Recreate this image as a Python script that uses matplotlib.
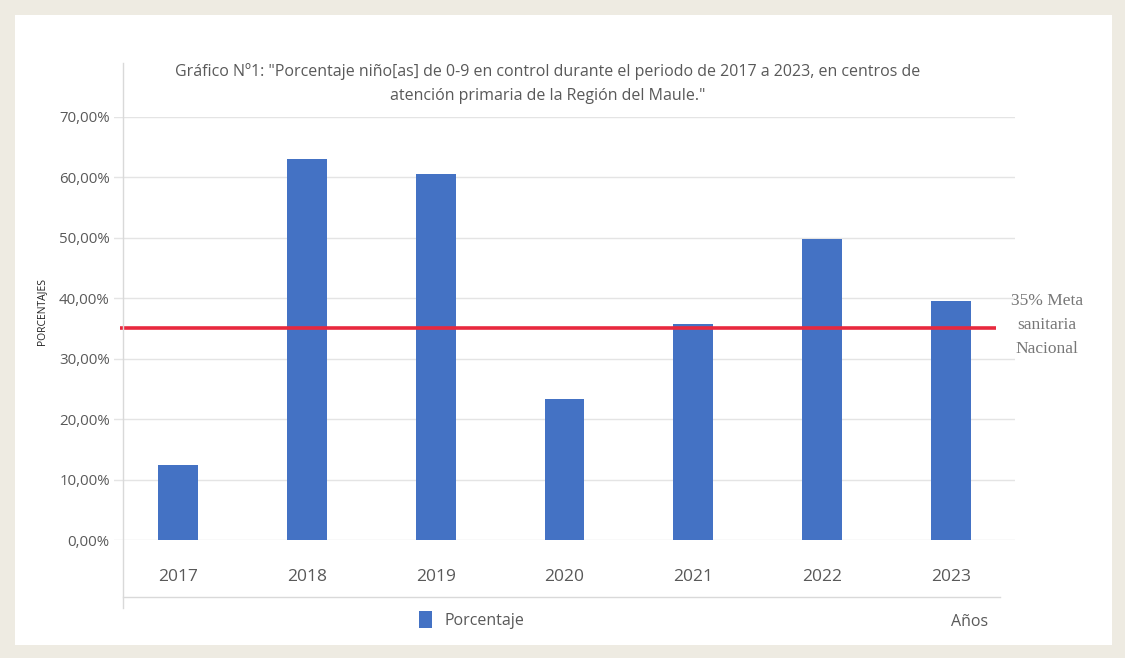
import matplotlib.pyplot as plt
from matplotlib.lines import Line2D
from matplotlib.patches import Rectangle
from matplotlib.ticker import FuncFormatter

years = ["2017", "2018", "2019", "2020", "2021", "2022", "2023"]
porcentaje = [0.124, 0.630, 0.606, 0.233, 0.357, 0.498, 0.396]
meta = 0.35
y_ticks = [0.0, 0.1, 0.2, 0.3, 0.4, 0.5, 0.6, 0.7]

W, H = 1125, 658
fig = plt.figure(figsize=(W / 100, H / 100), dpi=100)
fig.patch.set_facecolor("#EEEBE2")

# white inner panel
fig.add_artist(Rectangle((15 / W, 1 - 645 / H), (1112 - 15) / W, (645 - 15) / H,
                         transform=fig.transFigure, facecolor="white", edgecolor="none", zorder=0))

def px(x, y):
    return x / W, 1 - y / H

ax = fig.add_axes([114 / W, 1 - 540 / H, (1015 - 114) / W, (540 - 117) / H])
ax.set_facecolor("none")

gray = "#595959"
font = ["Open Sans", "DejaVu Sans"]

x = range(len(years))
ax.bar(x, porcentaje, width=0.31, color="#4472C4", zorder=3, label="Porcentaje")
ax.plot([-0.45, 6.35], [meta, meta], color="#E8293E", lw=2.6, zorder=4, solid_capstyle="butt")

ax.set_xlim(-0.5, 6.5)
ax.set_ylim(0, 0.70)
ax.set_yticks(y_ticks)
ax.yaxis.set_major_formatter(FuncFormatter(lambda v, p: f"{v * 100:.2f}%".replace(".", ",")))
ax.grid(axis="y", color="#E4E4E4", lw=1, zorder=0)
ax.set_axisbelow(True)
for s in ax.spines.values():
    s.set_visible(False)

ax.set_xticks(list(x))
ax.set_xticklabels(years, fontfamily=font, fontsize=12.5, color=gray)
ax.tick_params(axis="x", length=0, pad=21)
ax.tick_params(axis="y", length=0, pad=3, labelcolor=gray, labelsize=10.8)
for t in ax.get_yticklabels():
    t.set_fontfamily(font)

# axis lines drawn like the original
fig.add_artist(Line2D([123 / W, 123 / W], [1 - 63 / H, 1 - 608 / H], color="#D9D9D9", lw=1))
fig.add_artist(Line2D([123 / W, 1000 / W], [1 - 597 / H, 1 - 597 / H], color="#D9D9D9", lw=1))

fig.text(*px(548, 72), 'Gráfico Nº1: "Porcentaje niño[as] de 0-9 en control durante el periodo de 2017 a 2023, en centros de',
         ha="center", va="center", fontsize=11.5, color=gray, fontfamily=font)
fig.text(*px(548, 96), 'atención primaria de la Región del Maule."',
         ha="center", va="center", fontsize=11.5, color=gray, fontfamily=font)

fig.text(*px(42, 312), "PORCENTAJES", rotation=90, ha="center", va="center",
         fontsize=7.5, color="#222222", fontfamily=font)

fig.text(*px(1047, 325), "35% Meta\nsanitaria\nNacional", ha="center", va="center",
         fontsize=12.5, color="#777777", fontfamily="Liberation Serif", linespacing=1.7)

fig.text(*px(970, 622), "Años", ha="center", va="center", fontsize=11.5, color=gray, fontfamily=font)

leg = ax.legend(loc="center", bbox_to_anchor=px(472, 620), bbox_transform=fig.transFigure,
                frameon=False, handlelength=0.8, handleheight=1.2, handletextpad=0.8,
                prop={"family": font, "size": 11.5})
for t in leg.get_texts():
    t.set_color(gray)

fig.savefig("out.png", dpi=100, facecolor=fig.get_facecolor())
